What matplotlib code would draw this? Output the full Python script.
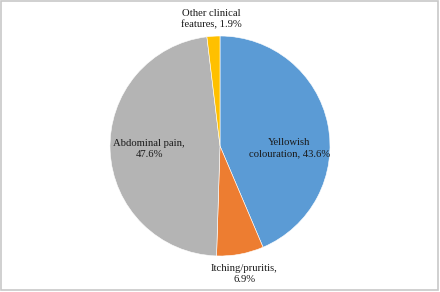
import matplotlib
matplotlib.use('Agg')
import matplotlib.pyplot as plt
from matplotlib.patches import Rectangle

# Data
categories = ['Yellowish\ncolouration, 43.6%', 'Itching/pruritis,\n6.9%',
              'Abdominal pain,\n47.6%', 'Other clinical\nfeatures, 1.9%']
shares = [43.6, 6.9, 47.6, 1.9]
colors = ['#5B9BD5', '#ED7D31', '#B4B4B4', '#FFC000']

# label positions in pie coordinates (radius = 1)
label_pos = [(0.63, -0.02), (0.22, -1.16), (-0.645, -0.03), (-0.08, 1.155)]

plt.rcParams['font.family'] = ['Liberation Serif', 'DejaVu Serif']

fig = plt.figure(figsize=(4.4, 2.92), dpi=100)
fig.patch.set_facecolor('white')

# outer frame
fig.patches.append(Rectangle((1 / 440, 2.5 / 292), 436.5 / 440, 289 / 292,
                             transform=fig.transFigure, fill=False,
                             edgecolor='#C8C8C8', linewidth=1.2))

ax = fig.add_axes([110 / 440, 36 / 292, 220 / 440, 220 / 292])
ax.pie(shares, colors=colors, startangle=90, counterclock=False, radius=1,
       wedgeprops=dict(edgecolor='white', linewidth=0.4))
ax.set_xlim(-1, 1)
ax.set_ylim(-1, 1)
ax.set_aspect('auto')
ax.axis('off')

for text, (x, y) in zip(categories, label_pos):
    ax.text(x, y, text, ha='center', va='center', fontsize=7.7, color='#1A1A1A',
            linespacing=1.3, clip_on=False)

fig.savefig('out.png', dpi=100)
